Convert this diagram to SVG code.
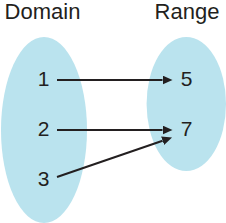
<svg xmlns="http://www.w3.org/2000/svg" width="226" height="223" viewBox="0 0 226 223">
<style>
.set{fill:#bae3ee;stroke:none}
.lbl{font-family:"Liberation Sans",Arial,sans-serif;font-size:22px;fill:#231f20;text-anchor:middle}
.num{font-family:"Liberation Sans",Arial,sans-serif;font-size:21px;fill:#231f20;text-anchor:middle}
.arr{stroke:#231f20;stroke-width:2;fill:none;marker-end:url(#ah)}
</style>
<defs>
<marker id="ah" markerUnits="userSpaceOnUse" markerWidth="10" markerHeight="9" refX="0" refY="4.5" orient="auto" viewBox="0 0 10 9">
<path d="M0,0 L10,4.5 L0,9 Z" fill="#231f20"/>
</marker>
</defs>
<g id="domain">
<ellipse class="set" cx="44" cy="130" rx="43" ry="93"/>
<text class="lbl" x="42.5" y="19">Domain</text>
</g>
<g id="range">
<ellipse class="set" cx="186.3" cy="104" rx="39.7" ry="67"/>
<text class="lbl" x="187" y="19">Range</text>
</g>
<g id="n1"><text class="num" x="43.6" y="86">1</text></g>
<g id="n2"><text class="num" x="43.6" y="136">2</text></g>
<g id="n3"><text class="num" x="43.6" y="186">3</text></g>
<g id="n5"><text class="num" x="186.5" y="86">5</text></g>
<g id="n7"><text class="num" x="186.5" y="136">7</text></g>
<g id="connectors">
<line class="arr" x1="57" y1="80" x2="162.5" y2="80"/>
<line class="arr" x1="57" y1="130" x2="162.5" y2="130"/>
<line class="arr" x1="57" y1="177" x2="162.6" y2="140.7"/>
</g>
</svg>
